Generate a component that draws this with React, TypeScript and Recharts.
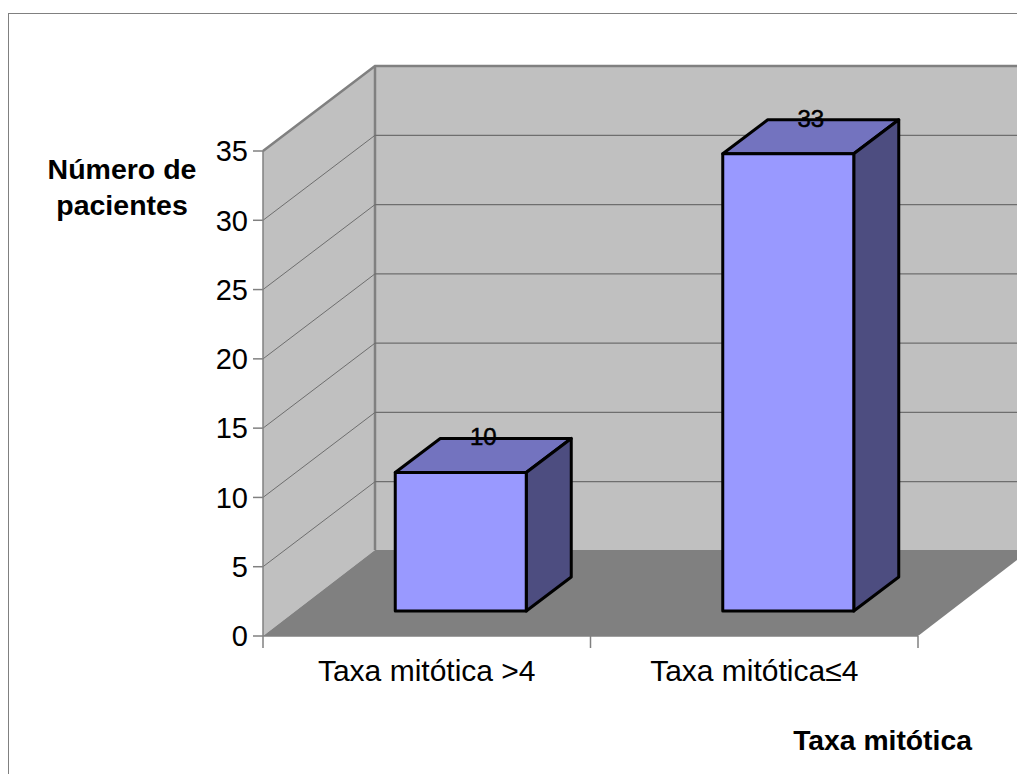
import React from "react";
import { BarChart, Bar, XAxis, YAxis, LabelList, ReferenceArea, ReferenceLine } from "recharts";

const categories = ["Taxa mitótica >4", "Taxa mitótica≤4"];
const patients = [10, 33];
const valueTicks = [0, 5, 10, 15, 20, 25, 30, 35];
const rows = categories.map((name, i) => ({ name, patients: patients[i] }));

// Perspective offsets of the oblique box: full depth of the floor, and depth of a column.
const FLOOR_DX = 112;
const FLOOR_DY = -85;
const FLOOR_BACK_DY = -86;
const BAR_SHIFT_X = 34;
const BAR_SHIFT_Y = -25;
const BAR_DX = 45;
const BAR_DY = -34;

const WALL = "#c0c0c0";
const FLOOR = "#808080";
const EDGE = "#808080";
const GRID = "#6e6e6e";
const FONT = "'Liberation Sans', Arial, sans-serif";

function Room({ x, y, width, height }: any) {
  const bottom = y + height;
  const right = x + width;
  const backLeft = x + FLOOR_DX;
  const backBottom = bottom + FLOOR_BACK_DY;
  const backTop = y + FLOOR_DY;
  return (
    <g>
      <polygon
        points={`${x},${y} ${backLeft},${backTop} ${backLeft},${backBottom} ${x},${bottom}`}
        fill={WALL}
      />
      <polygon
        points={`${backLeft},${backTop} ${right + FLOOR_DX},${backTop} ${right + FLOOR_DX},${backBottom} ${backLeft},${backBottom}`}
        fill={WALL}
      />
      <polygon
        points={`${x},${bottom} ${right},${bottom} ${right + FLOOR_DX},${backBottom} ${backLeft},${backBottom}`}
        fill={FLOOR}
      />
      <polyline
        points={`${x},${y} ${backLeft},${backTop} ${right + FLOOR_DX},${backTop}`}
        fill="none"
        stroke={EDGE}
        strokeWidth={2.5}
      />
      <line x1={backLeft} y1={backTop} x2={backLeft} y2={backBottom} stroke={EDGE} strokeWidth={2.5} />
      <line x1={x} y1={bottom} x2={right} y2={bottom} stroke={EDGE} strokeWidth={1.5} />
      {[0, 0.5, 1].map((f) => (
        <line
          key={f}
          x1={x + width * f}
          y1={bottom}
          x2={x + width * f}
          y2={bottom + 12}
          stroke={EDGE}
          strokeWidth={1.5}
        />
      ))}
    </g>
  );
}

function WallLine({ x1, y1, x2 }: any) {
  return (
    <g fill="none">
      <line x1={x1} y1={y1} x2={x1 + FLOOR_DX} y2={y1 + FLOOR_DY} stroke={GRID} strokeWidth={1} />
      <line x1={x1 + FLOOR_DX} y1={y1 + FLOOR_DY} x2={x2 + FLOOR_DX} y2={y1 + FLOOR_DY} stroke={GRID} strokeWidth={1.3} />
    </g>
  );
}

function Column({ x, y, width, height }: any) {
  const l = x + BAR_SHIFT_X;
  const t = y + BAR_SHIFT_Y;
  const r = l + width;
  const b = t + height;
  const stroke = { stroke: "#000", strokeWidth: 3, strokeLinejoin: "round" as const };
  return (
    <g>
      <polygon
        points={`${l},${t} ${l + BAR_DX},${t + BAR_DY} ${r + BAR_DX},${t + BAR_DY} ${r},${t}`}
        fill="#7373bf"
        {...stroke}
      />
      <polygon
        points={`${r},${t} ${r + BAR_DX},${t + BAR_DY} ${r + BAR_DX},${b + BAR_DY} ${r},${b}`}
        fill="#4d4d80"
        {...stroke}
      />
      <rect x={l} y={t} width={width} height={height} fill="#9999ff" {...stroke} />
    </g>
  );
}

function ValueLabel({ x, y, width, value }: any) {
  return (
    <text
      x={x + width / 2 + BAR_SHIFT_X + BAR_DX / 2}
      y={y + BAR_SHIFT_Y + BAR_DY + 7}
      textAnchor="middle"
      fontFamily={FONT}
      fontSize={24}
      fill="#000"
      stroke="#000"
      strokeWidth={0.5}
    >
      {value}
    </text>
  );
}

export default function App() {
  return (
    <div style={{ position: "absolute", left: 0, top: 0, width: 1017, height: 774, overflow: "hidden", background: "#fff" }}>
      <div
        style={{
          position: "absolute",
          left: 8,
          top: 13,
          width: 1100,
          height: 900,
          border: "1px solid #808080",
          boxSizing: "border-box",
        }}
      />
      <BarChart
        width={1017}
        height={774}
        data={rows}
        margin={{ top: 151, right: 99, bottom: 87, left: 203 }}
        barCategoryGap="30%"
        style={{ position: "absolute", left: 0, top: 0 }}
      >
        <XAxis
          dataKey="name"
          height={51}
          tickLine={false}
          axisLine={false}
          tickMargin={18}
          interval={0}
          tick={{ fontFamily: FONT, fontSize: 30, fill: "#000" }}
        />
        <YAxis
          width={60}
          domain={[0, 35]}
          ticks={valueTicks}
          tickSize={10}
          tickMargin={5}
          interval={0}
          axisLine={{ stroke: EDGE, strokeWidth: 1.5 }}
          tickLine={{ stroke: EDGE, strokeWidth: 1.5 }}
          tick={{ fontFamily: FONT, fontSize: 29, fill: "#000" }}
        />
        <ReferenceArea y1={0} y2={35} ifOverflow="visible" shape={Room} zIndex={100} />
        {valueTicks.slice(1, -1).map((v) => (
          <ReferenceLine key={v} y={v} ifOverflow="visible" shape={WallLine} zIndex={150} />
        ))}
        <Bar dataKey="patients" isAnimationActive={false} shape={Column}>
          <LabelList dataKey="patients" content={ValueLabel} />
        </Bar>
        <text textAnchor="middle" fontFamily={FONT} fontSize={28.5} fontWeight="bold" fill="#000">
          <tspan x={122} y={179}>Número de</tspan>
          <tspan x={122} y={215}>pacientes</tspan>
        </text>
        <text x={882.5} y={750} textAnchor="middle" fontFamily={FONT} fontSize={28.3} fontWeight="bold" fill="#000">
          Taxa mitótica
        </text>
      </BarChart>
    </div>
  );
}
